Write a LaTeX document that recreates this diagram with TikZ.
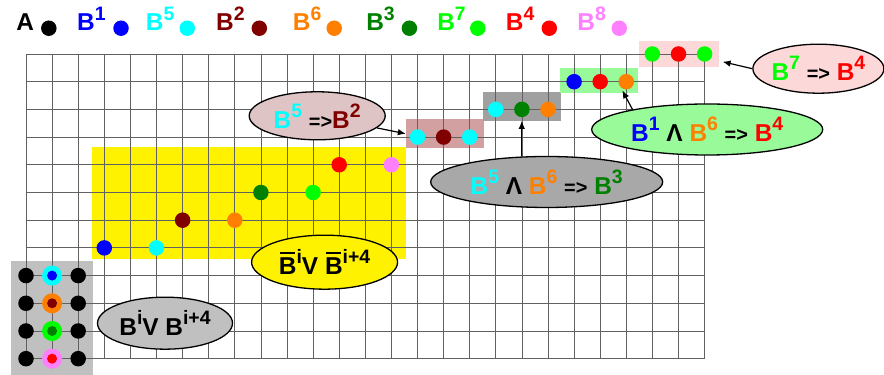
\documentclass[tikz,border=0pt]{standalone}
\usepackage{fontspec}
\setmainfont{Liberation Sans}
\usetikzlibrary{shapes.geometric,arrows.meta}

\definecolor{b1}{RGB}{0,0,255}
\definecolor{b2}{RGB}{128,0,0}
\definecolor{b3}{RGB}{0,128,0}
\definecolor{b4}{RGB}{255,0,0}
\definecolor{b5}{RGB}{0,255,255}
\definecolor{b6}{RGB}{255,128,0}
\definecolor{b7}{RGB}{0,255,0}
\definecolor{b8}{RGB}{255,128,255}
\definecolor{rosy}{RGB}{210,160,160}
\definecolor{rosylight}{RGB}{222,196,196}
\definecolor{greybox}{RGB}{160,160,160}
\definecolor{greyell}{RGB}{168,168,168}
\definecolor{silver}{RGB}{192,192,192}
\definecolor{mint}{RGB}{152,250,152}
\definecolor{blush}{RGB}{252,216,216}

\newcommand{\bigbold}{\fontsize{24.5}{24.5}\selectfont\bfseries}
\newcommand{\supr}[1]{\raisebox{11pt}{\fontsize{19.5}{19.5}\selectfont #1}}
\newcommand{\yields}{{\fontsize{20}{20}\selectfont =>}}
\newcommand{\barB}{\rlap{\hspace{1pt}\rule[20.5pt]{15.5pt}{2pt}}B}

\begin{document}
\begin{tikzpicture}[x=26.1bp,y=27.7bp,
    gridline/.style={draw=black!62,line width=0.8bp},
    band/.style={fill=#1,inner sep=0pt},
    dot/.style={circle,fill=#1,inner sep=0pt,minimum size=15.5bp},
    ring/.style={circle,fill=#1,inner sep=0pt,minimum size=20bp},
    core/.style={circle,fill=#1,inner sep=0pt,minimum size=10bp},
    lab/.style={anchor=base west,inner sep=0pt,font=\bigbold},
    bubble/.style={ellipse,draw,line width=1.3bp,fill=#1,inner sep=0pt,font=\bigbold},
    pointer/.style={-{Latex[length=8bp,width=6.5bp]},line width=1.2bp}]
      \useasboundingbox (-0.9962,-0.5884) rectangle (32.874,12.949);
      % coloured bands under the grid
      \node[band=silver,minimum width=81.7bp,minimum height=114.4bp] (lbox) at (0.99,1.475) {};
      \node[band=yellow,minimum width=313.4bp,minimum height=111.9bp] (ybox) at (8.545,5.61) {};
      \node[band=rosy,minimum width=78bp,minimum height=29bp] (pbox) at (16.055,8.12) {};
      \node[band=greybox,minimum width=78bp,minimum height=29bp] (gbox) at (18.995,9.115) {};
      \node[band=mint,minimum width=78.3bp,minimum height=25.6bp] (mbox) at (21.96,10.045) {};
      \node[band=blush,minimum width=80bp,minimum height=25.7bp] (kbox) at (25.02,11.005) {};
      \draw[gridline,step={(1,1)}] (0,0) grid (26,11);
      % legend
      \node[lab] (lA) at (-0.38,11.83) {A};
      \node[dot=black] (kA) at (0.874,11.93) {};
      \node[lab,text=b1] (l1) at (1.954,11.83) {B\supr{1}};
      \node[dot=b1] (k1) at (3.64,11.93) {};
      \node[lab,text=b5] (l5) at (4.586,11.83) {B\supr{5}};
      \node[dot=b5] (k5) at (6.18,11.93) {};
      \node[lab,text=b2] (l2) at (7.28,11.83) {B\supr{2}};
      \node[dot=b2] (k2) at (8.94,11.93) {};
      \node[lab,text=b6] (l6) at (10.22,11.83) {B\supr{6}};
      \node[dot=b6] (k6) at (11.81,11.93) {};
      \node[lab,text=b3] (l3) at (13.03,11.83) {B\supr{3}};
      \node[dot=b3] (k3) at (14.69,11.93) {};
      \node[lab,text=b7] (l7) at (15.75,11.83) {B\supr{7}};
      \node[dot=b7] (k7) at (17.31,11.93) {};
      \node[lab,text=b4] (l4) at (18.38,11.83) {B\supr{4}};
      \node[dot=b4] (k4) at (20.05,11.93) {};
      \node[lab,text=b8] (l8) at (21.12,11.83) {B\supr{8}};
      \node[dot=b8] (k8) at (22.73,11.93) {};
      % left column
      \path (0,3) node[dot=black] {} (2,3) node[dot=black] {} (0,2) node[dot=black] {} (2,2) node[dot=black] {};
      \path (0,1) node[dot=black] {} (2,1) node[dot=black] {} (0,0) node[dot=black] {} (2,0) node[dot=black] {};
      \path (1,3) node[ring=b5] {} node[core=b1] {};
      \path (1,2) node[ring=b6] {} node[core=b2] {};
      \path (1,1) node[ring=b7] {} node[core=b3] {};
      \path (1,0) node[ring=b8] {} node[core=b4] {};
      % staircase in the yellow band
      \node[dot=b1] (y1) at (3,4) {};
      \node[dot=b5] (y5) at (5,4) {};
      \node[dot=b2] (y2) at (6,5) {};
      \node[dot=b6] (y6) at (8,5) {};
      \node[dot=b3] (y3) at (9,6) {};
      \node[dot=b7] (y7) at (11,6) {};
      \node[dot=b4] (y4) at (12,7) {};
      \node[dot=b8] (y8) at (14,7) {};
      % rows of three
      \path (15,8) node[dot=b5] {} (16,8) node[dot=b2] {} (17,8) node[dot=b5] {};
      \path (18,9) node[dot=b5] {} (19,9) node[dot=b3] (g3) {} (20,9) node[dot=b6] {};
      \path (21,10) node[dot=b1] {} (22,10) node[dot=b4] {} (23,10) node[dot=b6] (m6) {};
      \path (24,11) node[dot=b7] {} (25,11) node[dot=b4] {} (26,11) node[dot=b7] {};
      % bubbles
      \node[bubble=rosylight,minimum width=136bp,minimum height=48bp] (e1) at (11.157,8.769)
        {\makebox[0pt]{\textcolor{b5}{B\supr{5}} \yields\textcolor{b2}{B\supr{2}}}};
      \node[bubble=greyell,minimum width=232bp,minimum height=51bp] (e2) at (19.95,6.379)
        {\makebox[0pt]{\textcolor{b5}{B\supr{5}} Λ \textcolor{b6}{B\supr{6}} \yields\ \textcolor{b3}{B\supr{3}}}};
      \node[bubble=mint,minimum width=231bp,minimum height=51bp] (e3) at (26.10,8.274)
        {\makebox[0pt]{\textcolor{b1}{B\supr{1}} Λ \textcolor{b6}{B\supr{6}} \yields\ \textcolor{b4}{B\supr{4}}}};
      \node[bubble=blush,minimum width=131bp,minimum height=49bp] (e4) at (30.36,10.469)
        {\makebox[0pt]{\textcolor{b7}{B\supr{7}} \yields\ \textcolor{b4}{B\supr{4}}}};
      \node[bubble=yellow,minimum width=146bp,minimum height=54bp] (e5) at (11.44,3.484)
        {\makebox[0pt]{\barB\supr{i}V \barB\supr{i+4}}};
      \node[bubble=silver,minimum width=135bp,minimum height=52bp] (e6) at (5.326,1.282)
        {\makebox[0pt]{B\supr{i}V B\supr{i+4}}};
      % arrows
      \coordinate (t4) at (26.69,10.72);
      \draw[pointer] (e1) -- (pbox.west);
      \draw[pointer] (gbox.south |- e2.north) -- (gbox.south);
      \draw[pointer,shorten >=3.5bp] (e3.165) -- (m6.south west);
      \draw[pointer] (e4.west) -- (t4);
\end{tikzpicture}
\end{document}
